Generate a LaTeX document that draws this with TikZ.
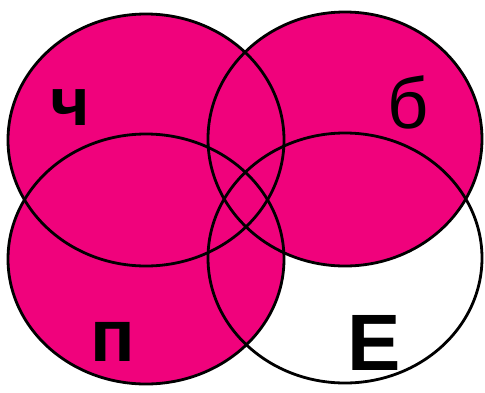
\documentclass[tikz,border=0pt]{standalone}
\usepackage{fontspec}
\setmainfont{Liberation Sans}
\definecolor{venn}{RGB}{240,2,124}
\begin{document}
\begin{tikzpicture}[x=1pt,y=-1pt,
  ring/.style={draw=black,line width=2.8pt},
  lbl/.style={inner sep=0pt,anchor=base,font=\bfseries\fontsize{74}{74}\selectfont}]
\useasboundingbox (0,0) rectangle (485,392);
\fill[white] (0,0) rectangle (485,392);
% fills
\fill[venn] (146,140) ellipse [x radius=138,y radius=126];
\fill[venn] (345,139) ellipse [x radius=137,y radius=127];
\fill[venn] (146,259) ellipse [x radius=138,y radius=125];
% outlines
\draw[ring] (146,140) ellipse [x radius=138,y radius=126];
\draw[ring] (345,139) ellipse [x radius=137,y radius=127];
\draw[ring] (146,259) ellipse [x radius=138,y radius=125];
\draw[ring] (345,258) ellipse [x radius=137,y radius=125];
% labels
\node[lbl,font=\bfseries\fontsize{68}{68}\selectfont] (ch) at (70,125) {ч};
\node[lbl,font=\fontsize{72}{72}\selectfont] (b) at (408,128) {б};
\node[lbl] (p) at (113,361) {п};
\node[lbl,font=\bfseries\fontsize{80}{80}\selectfont] (e) at (374,370) {Е};
\end{tikzpicture}
\end{document}
